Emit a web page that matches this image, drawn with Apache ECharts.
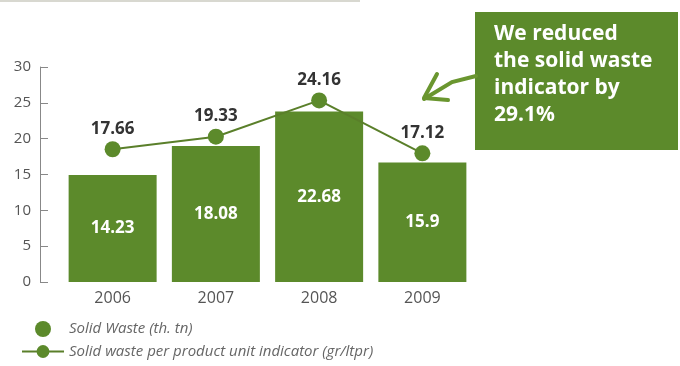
<!DOCTYPE html>
<html>
<head>
<meta charset="utf-8">
<script src="https://cdn.jsdelivr.net/npm/echarts@6/dist/echarts.min.js"></script>
<style>html,body{margin:0;padding:0;background:#fff}#c{width:680px;height:366px}</style>
</head>
<body>
<div id="c"></div>
<script>
var years = ['2006', '2007', '2008', '2009'];
var solidWaste = [14.23, 18.08, 22.68, 15.9];
var perUnit = [17.66, 19.33, 24.16, 17.12];
var yTicks = [0, 30, 5];
var calloutLines = ['We reduced', 'the solid waste', 'indicator by', '29.1%'];

var green = '#5c8a2b';
var font = '"Open Sans", Lato, sans-serif';
var chart = echarts.init(document.getElementById('c'));
chart.setOption({
  animation: false,
  textStyle: { fontFamily: font },
  grid: { left: 61, right: 206, top: 67, bottom: 84 },
  legend: {
    orient: 'vertical', left: 16, top: 316, itemWidth: 42, itemHeight: 16, itemGap: 7,
    textStyle: { fontStyle: 'italic', fontSize: 15, color: '#666', fontFamily: font },
    data: [{ name: 'Solid Waste (th. tn)', icon: 'circle' }, { name: 'Solid waste per product unit indicator (gr/ltpr)' }]
  },
  xAxis: {
    type: 'category', data: years,
    axisLine: { show: false }, axisTick: { show: false },
    axisLabel: { fontSize: 16, color: '#555', margin: 8 }
  },
  yAxis: [{
    type: 'value', min: yTicks[0], max: yTicks[1], interval: yTicks[2], offset: 21,
    splitLine: { show: false },
    axisLine: { show: true, lineStyle: { color: '#888', width: 1 } },
    axisTick: { show: true, inside: true, length: 8, lineStyle: { color: '#888' } },
    axisLabel: { fontSize: 15, color: '#555', margin: 9 }
  }, {
    type: 'value', min: 0, max: 28.6, show: false, splitLine: { show: false }
  }],
  series: [{
    name: 'Solid Waste (th. tn)', type: 'bar', yAxisIndex: 1, data: solidWaste,
    barWidth: 88, itemStyle: { color: green },
    label: { show: true, position: 'inside', color: '#fff', fontWeight: 'bold', fontSize: 17 }
  }, {
    name: 'Solid waste per product unit indicator (gr/ltpr)', type: 'line', yAxisIndex: 1, data: perUnit,
    symbol: 'circle', symbolSize: 16, lineStyle: { color: '#5a7f2a', width: 2 },
    itemStyle: { color: green },
    label: { show: true, position: 'top', distance: 4, color: '#333', fontWeight: 'bold', fontSize: 17 }
  }],
  graphic: [
    { type: 'line', shape: { x1: 0, y1: 1, x2: 360, y2: 1 }, style: { stroke: '#d8d8d0', lineWidth: 2 } },
    { type: 'rect', shape: { x: 475, y: 12, width: 203, height: 138 }, style: { fill: green } },
    { type: 'text', left: 494, top: 21, style: { text: calloutLines.join('\n'), fill: '#fff', font: 'bold 21px ' + font, lineHeight: 27 } },
    { type: 'polyline', shape: { points: [[476, 76], [452, 82], [424, 99]] }, style: { stroke: '#6a962f', lineWidth: 4, fill: null, lineCap: 'round' } },
    { type: 'polyline', shape: { points: [[437, 74], [424, 98], [448, 100]] }, style: { stroke: '#6a962f', lineWidth: 4, fill: null, lineCap: 'round', lineJoin: 'round' } }
  ]
});
</script>
</body>
</html>
